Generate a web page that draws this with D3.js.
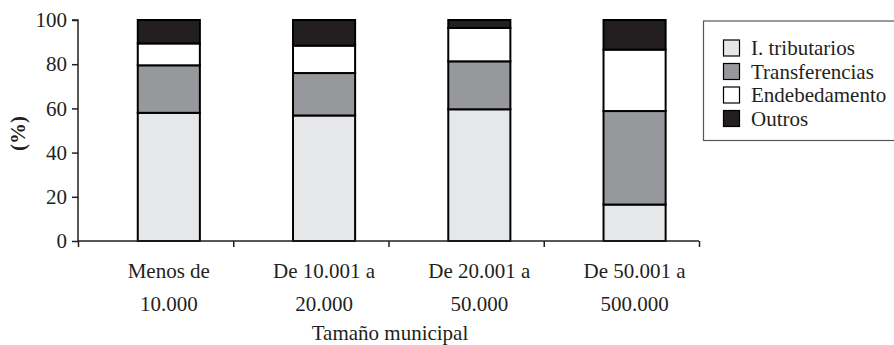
<!DOCTYPE html>
<html>
<head>
<meta charset="utf-8">
<script src="https://cdn.jsdelivr.net/npm/d3@7"></script>
<style>
  html, body { margin: 0; padding: 0; background: #fff; }
  svg { display: block; }
  text { font-family: "Liberation Serif", "Times New Roman", serif; fill: #231f20; }
</style>
</head>
<body>
<svg id="chart" width="894" height="345"></svg>
<script>
// ---- data ----
const categories = ["Menos de 10.000", "De 10.001 a 20.000", "De 20.001 a 50.000", "De 50.001 a 500.000"];
const categoryLines = [["Menos de", "10.000"], ["De 10.001 a", "20.000"], ["De 20.001 a", "50.000"], ["De 50.001 a", "500.000"]];
const seriesNames = ["I. tributarios", "Transferencias", "Endebedamento", "Outros"];
const tributarios    = [58.0, 56.8, 59.6, 16.5];
const transferencias = [21.5, 19.2, 21.7, 42.3];
const endebedamento  = [9.9, 12.4, 15.1, 27.8];
const outros         = [10.6, 11.6, 3.6, 13.4];
const yTicks = [0, 20, 40, 60, 80, 100];
const yLabel = "(%)";
const xLabel = "Tamaño municipal";
const colors = ["#e6e7e9", "#97989b", "#ffffff", "#231f20"];

const seriesValues = [tributarios, transferencias, endebedamento, outros];
const table = categories.map((c, i) => {
  const row = { cat: c };
  seriesNames.forEach((s, j) => row[s] = seriesValues[j][i]);
  return row;
});

const FONT = "Liberation Serif";
const svg = d3.select("#chart");
const mLeft = 78, mRight = 699, mTop = 20, mBottom = 241;

const x = d3.scaleBand().domain(categories).range([mLeft, mRight]);
const xb = d3.scaleLinear().domain([0, categories.length]).range([mLeft, mRight]);
const y = d3.scaleLinear().domain([0, 100]).range([mBottom, mTop]);

const stack = d3.stack().keys(seriesNames)(table);
const bw = x.bandwidth();
const barW = bw * 0.4;
const barOff = bw * 0.585 - barW / 2;

// bars
svg.append("g").selectAll("g").data(stack).join("g")
  .attr("fill", (d, i) => colors[i])
  .selectAll("rect").data(d => d).join("rect")
  .attr("x", d => x(d.data.cat) + barOff)
  .attr("y", d => y(d[1]))
  .attr("width", barW)
  .attr("height", d => y(d[0]) - y(d[1]))
  .attr("stroke", "#000")
  .attr("stroke-width", 2);

// y axis
const yAxis = svg.append("g").attr("transform", `translate(${mLeft},0)`)
  .call(d3.axisLeft(y).tickValues(yTicks).tickSize(6).tickPadding(5));
yAxis.attr("font-family", FONT);
yAxis.selectAll("path, line").attr("stroke", "#231f20").attr("stroke-width", 1.5);
yAxis.select(".domain").attr("d", `M-6,${y(100)}H0V${y(0)}`);
yAxis.selectAll("text").attr("font-size", 21).attr("font-family", FONT).attr("fill", "#231f20");

// x axis
const xAxis = svg.append("g").attr("transform", `translate(0,${mBottom})`)
  .call(d3.axisBottom(xb).tickValues(d3.range(categories.length + 1)).tickSize(6).tickFormat(""));
xAxis.selectAll("path, line").attr("stroke", "#231f20").attr("stroke-width", 1.5);
xAxis.select(".domain").attr("d", `M${mLeft},0H${mRight}`);

// category labels
const lab = svg.append("g").selectAll("text").data(categories).join("text")
  .attr("text-anchor", "middle")
  .attr("font-family", FONT)
  .attr("font-size", 21);
lab.each(function(c, i) {
  const t = d3.select(this);
  const cx = x(c) + bw * 0.585;
  categoryLines[i].forEach((line, k) => {
    t.append("tspan").attr("x", cx).attr("y", 278 + k * 33).text(line);
  });
});

// axis titles
svg.append("text").attr("x", (mLeft + mRight) / 2 + 1.5).attr("y", 340)
  .attr("text-anchor", "middle").attr("font-family", FONT).attr("font-size", 21).text(xLabel);
svg.append("text").attr("transform", `translate(25,${(mTop + mBottom) / 2 + 3}) rotate(-90)`)
  .attr("text-anchor", "middle").attr("font-family", FONT).attr("font-size", 21).attr("font-weight", "bold").text(yLabel);

// legend
const lg = svg.append("g");
lg.append("rect").attr("x", 703.5).attr("y", 21).attr("width", 200).attr("height", 119.5)
  .attr("fill", "#fff").attr("stroke", "#555").attr("stroke-width", 1.2);
const items = lg.selectAll("g.item").data(seriesNames).join("g").attr("class", "item")
  .attr("transform", (d, i) => `translate(723,${48 + i * 23.5})`);
items.append("rect").attr("x", 0.5).attr("y", -8).attr("width", 16).attr("height", 16)
  .attr("fill", (d, i) => colors[i]).attr("stroke", "#000").attr("stroke-width", 1.2);
items.append("text").attr("x", 28).attr("y", 7).attr("font-family", FONT).attr("font-size", 21).text(d => d);
</script>
</body>
</html>
